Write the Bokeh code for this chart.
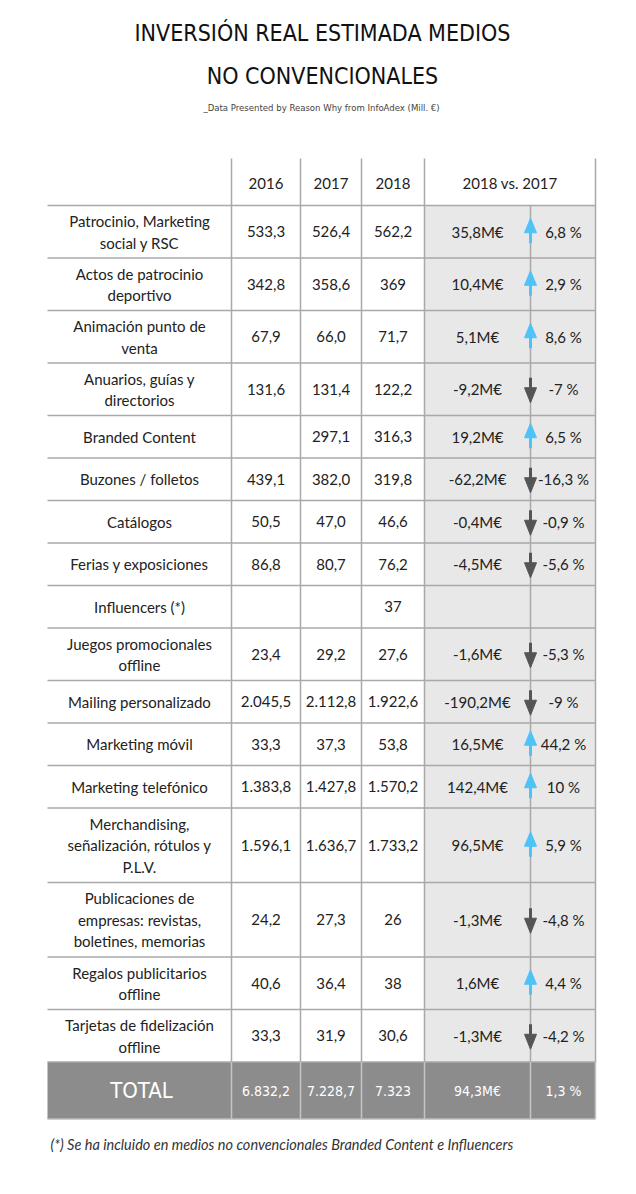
from bokeh.plotting import figure
from bokeh.models import Range1d
from bokeh.core.properties import value
from bokeh.embed import file_html
from bokeh.resources import INLINE

# ---------------- data ----------------
title_lines = ["INVERSIÓN REAL ESTIMADA MEDIOS", "NO CONVENCIONALES"]
subtitle = "_Data Presented by Reason Why from InfoAdex (Mill. €)"
headers = ["2016", "2017", "2018", "2018 vs. 2017"]
categories = [
    "Patrocinio, Marketing\nsocial y RSC",
    "Actos de patrocinio\ndeportivo",
    "Animación punto de\nventa",
    "Anuarios, guías y\ndirectorios",
    "Branded Content",
    "Buzones / folletos",
    "Catálogos",
    "Ferias y exposiciones",
    "Influencers (*)",
    "Juegos promocionales\noffline",
    "Mailing personalizado",
    "Marketing móvil",
    "Marketing telefónico",
    "Merchandising,\nseñalización, rótulos y\nP.L.V.",
    "Publicaciones de\nempresas: revistas,\nboletines, memorias",
    "Regalos publicitarios\noffline",
    "Tarjetas de fidelización\noffline",
]
v2016 = ["533,3", "342,8", "67,9", "131,6", "", "439,1", "50,5", "86,8", "", "23,4",
         "2.045,5", "33,3", "1.383,8", "1.596,1", "24,2", "40,6", "33,3"]
v2017 = ["526,4", "358,6", "66,0", "131,4", "297,1", "382,0", "47,0", "80,7", "", "29,2",
         "2.112,8", "37,3", "1.427,8", "1.636,7", "27,3", "36,4", "31,9"]
v2018 = ["562,2", "369", "71,7", "122,2", "316,3", "319,8", "46,6", "76,2", "37", "27,6",
         "1.922,6", "53,8", "1.570,2", "1.733,2", "26", "38", "30,6"]
diff = ["35,8M€", "10,4M€", "5,1M€", "-9,2M€", "19,2M€", "-62,2M€", "-0,4M€", "-4,5M€", "",
        "-1,6M€", "-190,2M€", "16,5M€", "142,4M€", "96,5M€", "-1,3M€", "1,6M€", "-1,3M€"]
pct = ["6,8 %", "2,9 %", "8,6 %", "-7 %", "6,5 %", "-16,3 %", "-0,9 %", "-5,6 %", "",
       "-5,3 %", "-9 %", "44,2 %", "10 %", "5,9 %", "-4,8 %", "4,4 %", "-4,2 %"]
total_label = "TOTAL"
totals = ["6.832,2", "7.228,7", "7.323", "94,3M€", "1,3 %"]
footnote = "(*) Se ha incluido en medios no convencionales Branded Content e Influencers"

# ---------------- layout ----------------
W, H = 620, 1178
p = figure(width=W, height=H, output_backend="svg", toolbar_location=None,
           x_range=Range1d(0, W), y_range=Range1d(H, 0),
           min_border=0, outline_line_color=None, background_fill_color="white")
p.axis.visible = False
p.grid.visible = False

X0 = 47
XC = [231, 300, 361, 424, 530, 595]
HEAD_TOP, HEAD_BOT = 158, 205
row_h = {1: 42.5, 2: 52.5, 3: 74.5}
LINE_SP = 21.5

tops, bots = [], []
y = HEAD_BOT
for c in categories:
    n = c.count("\n") + 1
    tops.append(y)
    y += row_h[n]
    bots.append(y)
TOT_TOP, TOT_BOT = y, y + 57

GRID = "#a9a9a9"
TXT = "#222222"
BODY_FONT = value("Lato")
COND_FONT = value("DejaVu Sans Condensed")

# backgrounds
p.quad(left=[XC[3]], right=[XC[5]], top=[HEAD_BOT], bottom=[TOT_TOP],
       fill_color="#e8e8e8", line_color=None)
p.quad(left=[X0], right=[XC[5]], top=[TOT_TOP], bottom=[TOT_BOT],
       fill_color="#8c8c8c", line_color=None)

# horizontal lines
hy = [HEAD_BOT] + bots
p.segment(x0=[X0] * len(hy), x1=[XC[5]] * len(hy), y0=hy, y1=hy,
          line_color=GRID, line_width=1.5)
p.segment(x0=[X0], x1=[XC[5]], y0=[TOT_BOT], y1=[TOT_BOT], line_color="#bdbdbd", line_width=1.5)
# vertical lines
vx = [XC[0], XC[1], XC[2], XC[3], XC[5]]
p.segment(x0=vx, x1=vx, y0=[HEAD_TOP] * 5, y1=[TOT_TOP] * 5, line_color=GRID, line_width=1.5)
p.segment(x0=[XC[4]], x1=[XC[4]], y0=[HEAD_BOT], y1=[TOT_TOP], line_color=GRID, line_width=1.5)
tvx = [XC[0], XC[1], XC[2], XC[3], XC[4], XC[5]]
p.segment(x0=tvx, x1=tvx, y0=[TOT_TOP] * 6, y1=[TOT_BOT] * 6, line_color="#c4c4c4", line_width=1.5)

# title
p.text(x=[322, 322], y=[32, 75], text=title_lines, text_font=COND_FONT,
       text_font_size="23px", text_align="center", text_baseline="middle", text_color="#111111")
p.text(x=[321], y=[107], text=[subtitle], text_font=COND_FONT, text_font_size="9.5px",
       text_align="center", text_baseline="middle", text_color="#444444")

# header
hx = [(XC[0] + XC[1]) / 2, (XC[1] + XC[2]) / 2, (XC[2] + XC[3]) / 2, (XC[3] + XC[5]) / 2]
hyc = (HEAD_TOP + HEAD_BOT) / 2 + 1
p.text(x=hx, y=[hyc] * 4, text=headers, text_font=BODY_FONT, text_font_size="15px",
       text_align="center", text_baseline="middle", text_color=TXT)

# category labels (split in lines)
lx, ly, lt = [], [], []
for c, t, b in zip(categories, tops, bots):
    parts = c.split("\n")
    cy = (t + b) / 2
    for i, s in enumerate(parts):
        lx.append((X0 + XC[0]) / 2)
        ly.append(cy + (i - (len(parts) - 1) / 2) * LINE_SP)
        lt.append(s)
p.text(x=lx, y=ly, text=lt, text_font=BODY_FONT, text_font_size="15px",
       text_align="center", text_baseline="middle", text_color=TXT)

centers = [(t + b) / 2 for t, b in zip(tops, bots)]
cols = [v2016, v2017, v2018, diff, pct]
cx = [(XC[0] + XC[1]) / 2, (XC[1] + XC[2]) / 2, (XC[2] + XC[3]) / 2,
      (XC[3] + XC[4]) / 2, (XC[4] + XC[5]) / 2 + 0.5]
for col, x in zip(cols, cx):
    p.text(x=[x] * len(col), y=centers, text=col, text_font=BODY_FONT, text_font_size="15px",
           text_align="center", text_baseline="middle", text_color=TXT)

# arrows
ax = XC[4]
up_x, up_y, dn_x, dn_y = [], [], [], []
up_seg, dn_seg = [], []
for d, cy in zip(diff, centers):
    if not d:
        continue
    if d.startswith("-"):
        dn_x.append([ax - 6, ax + 6, ax])
        dn_y.append([cy - 1.5, cy - 1.5, cy + 13.5])
        dn_seg.append((cy - 11.5, cy - 1))
    else:
        up_x.append([ax - 6, ax + 6, ax])
        up_y.append([cy + 1, cy + 1, cy - 13.5])
        up_seg.append((cy + 11.5, cy + 0.5))
BLUE = "#4fc3f7"
DARK = "#555555"
p.segment(x0=[ax] * len(up_seg), x1=[ax] * len(up_seg), y0=[s[0] for s in up_seg],
          y1=[s[1] for s in up_seg], line_color=BLUE, line_width=3)
p.patches(xs=up_x, ys=up_y, fill_color=BLUE, line_color=BLUE, line_width=1)
p.segment(x0=[ax] * len(dn_seg), x1=[ax] * len(dn_seg), y0=[s[0] for s in dn_seg],
          y1=[s[1] for s in dn_seg], line_color=DARK, line_width=3)
p.patches(xs=dn_x, ys=dn_y, fill_color=DARK, line_color=DARK, line_width=1)

# total row
tcy = (TOT_TOP + TOT_BOT) / 2
p.text(x=[(X0 + XC[0]) / 2 + 2], y=[tcy], text=[total_label], text_font=COND_FONT,
       text_font_size="22px", text_align="center", text_baseline="middle", text_color="white")
p.text(x=cx, y=[tcy] * 5, text=totals, text_font=COND_FONT, text_font_size="14px",
       text_align="center", text_baseline="middle", text_color="white")

# footnote
p.text(x=[50], y=[1144], text=[footnote], text_font=BODY_FONT, text_font_style="italic",
       text_font_size="14.5px", text_align="left", text_baseline="middle", text_color="#333333")

open("out.html", "w").write(file_html(p, INLINE))
